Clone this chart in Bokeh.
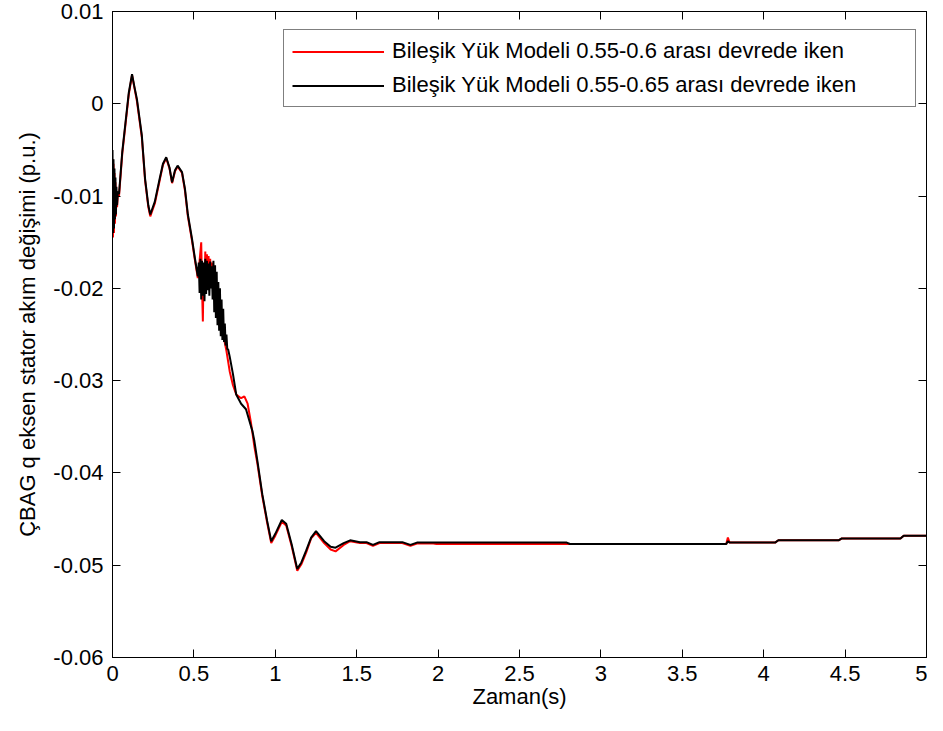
from bokeh.plotting import figure
from bokeh.models import Range1d, FixedTicker, LinearAxis, Legend, LegendItem
from bokeh.embed import file_html
from bokeh.resources import INLINE

# ---------------- data ----------------
t_black = [
    0.000, 0.003, 0.006, 0.009, 0.012, 0.015, 0.018, 0.021, 0.024, 0.028, 0.033,
    0.040, 0.050, 0.060, 0.080, 0.100, 0.120, 0.135, 0.150, 0.180, 0.200, 0.220,
    0.232, 0.260, 0.290, 0.310, 0.330, 0.350, 0.366, 0.384, 0.400, 0.427, 0.445,
    0.463, 0.488, 0.505, 0.524,
    0.530, 0.535, 0.540, 0.545, 0.550, 0.555, 0.560, 0.565, 0.570, 0.575, 0.580,
    0.585, 0.590, 0.595, 0.600, 0.605, 0.610, 0.615, 0.620, 0.625, 0.630, 0.635,
    0.640, 0.645, 0.650, 0.655, 0.660, 0.665, 0.670, 0.675, 0.680, 0.685, 0.690,
    0.695, 0.700, 0.705, 0.710,
    0.720, 0.740, 0.760, 0.790, 0.820, 0.860, 0.872, 0.890, 0.920, 0.950, 0.975,
    1.000, 1.040, 1.067, 1.100, 1.135, 1.160, 1.190, 1.220, 1.250, 1.300, 1.340,
    1.370, 1.420, 1.460, 1.520, 1.560, 1.600, 1.640, 1.780, 1.830, 1.870, 2.790,
    2.810, 3.770, 3.780, 3.790, 4.070, 4.090, 4.460, 4.480, 4.840, 4.860, 5.000,
]
v_black = [
    -0.0050, -0.0140, -0.0060, -0.0135, -0.0070, -0.0125, -0.0080, -0.0120, -0.0090, -0.0110, -0.0095,
    -0.0098, -0.0075, -0.0052, -0.0020, 0.0012, 0.0032, 0.0018, 0.0005, -0.0034, -0.0081, -0.0110,
    -0.0120, -0.0106, -0.0081, -0.0065, -0.0058, -0.0069, -0.0085, -0.0072, -0.0067, -0.0074, -0.0092,
    -0.0120, -0.0146, -0.0166, -0.0187,
    -0.0172, -0.0205, -0.0168, -0.0212, -0.0170, -0.0208, -0.0172, -0.0214, -0.0168, -0.0206, -0.0170,
    -0.0202, -0.0173, -0.0208, -0.0171, -0.0200, -0.0176, -0.0212, -0.0170, -0.0226, -0.0175, -0.0232,
    -0.0182, -0.0240, -0.0193, -0.0246, -0.0200, -0.0252, -0.0212, -0.0256, -0.0222, -0.0258, -0.0238,
    -0.0262, -0.0250, -0.0266, -0.0266,
    -0.0274, -0.0293, -0.0315, -0.0325, -0.0331, -0.0355, -0.0366, -0.0387, -0.0423, -0.0452, -0.0474,
    -0.0466, -0.0451, -0.0455, -0.0477, -0.0504, -0.0497, -0.0484, -0.0470, -0.0463, -0.0474, -0.0480,
    -0.0481, -0.0476, -0.0473, -0.0475, -0.0475, -0.0478, -0.0475, -0.0475, -0.0478, -0.04755, -0.04755,
    -0.0477, -0.0477, -0.0474, -0.04755, -0.04755, -0.0473, -0.0473, -0.0471, -0.0471, -0.0468, -0.0468,
]

t_red = [
    0.000, 0.003, 0.006, 0.009, 0.012, 0.015, 0.018, 0.021, 0.024, 0.028, 0.033,
    0.040, 0.050, 0.060, 0.080, 0.100, 0.120, 0.135, 0.150, 0.180, 0.200, 0.220,
    0.232, 0.260, 0.290, 0.310, 0.330, 0.350, 0.366, 0.384, 0.400, 0.427, 0.445,
    0.463, 0.488, 0.505, 0.524,
    0.530, 0.545, 0.550, 0.555, 0.560, 0.565, 0.570, 0.575, 0.580, 0.585, 0.590,
    0.595, 0.600, 0.605, 0.610, 0.620, 0.640, 0.660, 0.680, 0.700,
    0.720, 0.740, 0.760, 0.790, 0.810, 0.830, 0.850, 0.872, 0.890, 0.920, 0.950, 0.975,
    1.000, 1.040, 1.067, 1.100, 1.135, 1.160, 1.190, 1.220, 1.250, 1.300, 1.340,
    1.370, 1.420, 1.460, 1.520, 1.560, 1.600, 1.640, 1.780, 1.830, 1.870, 1.970,
    1.990, 3.770, 3.780, 3.790, 4.070, 4.090, 4.460, 4.480, 4.840, 4.860, 5.000,
]
v_red = [
    -0.0060, -0.0145, -0.0065, -0.0140, -0.0075, -0.0130, -0.0085, -0.0122, -0.0095, -0.0112, -0.0097,
    -0.0100, -0.0077, -0.0054, -0.0022, 0.0010, 0.0031, 0.0017, 0.0003, -0.0036, -0.0083, -0.0112,
    -0.0122, -0.0108, -0.0083, -0.0066, -0.0059, -0.0070, -0.0086, -0.0073, -0.0068, -0.0075, -0.0094,
    -0.0122, -0.0148, -0.0168, -0.0189,
    -0.0180, -0.0150, -0.0200, -0.0236, -0.0175, -0.0200, -0.0160, -0.0195, -0.0163, -0.0190, -0.0165,
    -0.0195, -0.0168, -0.0190, -0.0172, -0.0185, -0.0200, -0.0225, -0.0250, -0.0268,
    -0.0290, -0.0305, -0.0315, -0.0319, -0.0317, -0.0325, -0.0345, -0.0372, -0.0390, -0.0425, -0.0454, -0.0476,
    -0.0468, -0.0453, -0.0457, -0.0479, -0.0506, -0.0499, -0.0486, -0.0471, -0.0465, -0.0476, -0.0483,
    -0.0485, -0.0478, -0.0474, -0.0476, -0.0476, -0.0479, -0.0476, -0.0476, -0.0479, -0.04765, -0.04765,
    -0.0477, -0.0477, -0.0470, -0.04755, -0.04755, -0.0473, -0.0473, -0.0471, -0.0471, -0.0468, -0.0468,
]

x_ticks = [0.0, 0.5, 1.0, 1.5, 2.0, 2.5, 3.0, 3.5, 4.0, 4.5, 5.0]
x_tick_labels = ["0", "0.5", "1", "1.5", "2", "2.5", "3", "3.5", "4", "4.5", "5"]
y_ticks = [-0.06, -0.05, -0.04, -0.03, -0.02, -0.01, 0.0, 0.01]
y_tick_labels = ["-0.06", "-0.05", "-0.04", "-0.03", "-0.02", "-0.01", "0", "0.01"]

series_labels = [
    "Bileşik Yük Modeli 0.55-0.6 arası devrede iken",
    "Bileşik Yük Modeli 0.55-0.65 arası devrede iken",
]
x_title = "Zaman(s)"
y_title = "ÇBAG q eksen stator akım değişimi (p.u.)"

# ---------------- figure ----------------
FONT = "Liberation Sans"
p = figure(
    width=927, height=715,
    output_backend="svg", toolbar_location=None,
    x_range=Range1d(0, 5), y_range=Range1d(-0.06, 0.01),
    min_border_left=112, min_border_right=1, min_border_top=11, min_border_bottom=58,
    background_fill_color="white", border_fill_color="white",
)
p.grid.visible = False
p.outline_line_color = "black"
p.outline_line_width = 1


def style_axis(ax, ticks, labels, show_labels=True):
    ax.ticker = FixedTicker(ticks=ticks)
    ax.minor_tick_line_color = None
    ax.major_tick_in = 8
    ax.major_tick_out = 0
    ax.axis_line_color = "black"
    ax.major_tick_line_color = "black"
    ax.axis_line_width = 1
    ax.major_tick_line_width = 1
    ax.major_label_text_font = FONT
    if show_labels:
        ax.major_label_overrides = {t: l for t, l in zip(ticks, labels)}
        ax.major_label_text_color = "black"
        ax.major_label_text_font_size = "22px"
        ax.major_label_standoff = 8
    else:
        ax.major_label_text_color = None
        ax.major_label_text_font_size = "1px"
        ax.major_label_standoff = 0


style_axis(p.xaxis[0], x_ticks, x_tick_labels)
style_axis(p.yaxis[0], y_ticks, y_tick_labels)
p.yaxis[0].major_label_standoff = 9
p.xaxis[0].axis_label = x_title
p.yaxis[0].axis_label = y_title
for ax in (p.xaxis[0], p.yaxis[0]):
    ax.axis_label_text_font = FONT
    ax.axis_label_text_font_size = "22px"
    ax.axis_label_text_font_style = "normal"
    ax.axis_label_text_color = "black"
p.xaxis[0].axis_label_standoff = 0
p.yaxis[0].axis_label_standoff = 10

top_axis = LinearAxis()
style_axis(top_axis, x_ticks, x_tick_labels, show_labels=False)
p.add_layout(top_axis, "above")
right_axis = LinearAxis()
style_axis(right_axis, y_ticks, y_tick_labels, show_labels=False)
p.add_layout(right_axis, "right")

r_red = p.line(t_red, v_red, line_color="#FF0000", line_width=2)
r_black = p.line(t_black, v_black, line_color="#000000", line_width=2)

legend = Legend(
    items=[LegendItem(label=series_labels[0], renderers=[r_red]),
           LegendItem(label=series_labels[1], renderers=[r_black])],
    location=(171, 550),
    border_line_color="black", border_line_width=1,
    background_fill_color="white", background_fill_alpha=1,
    label_text_font=FONT, label_text_font_size="22px", label_text_color="black",
    glyph_width=92, glyph_height=25, label_height=25, label_width=515,
    label_standoff=8, spacing=8, padding=8, margin=0,
)
p.add_layout(legend, "center")

open("out.html", "w").write(file_html(p, INLINE))
